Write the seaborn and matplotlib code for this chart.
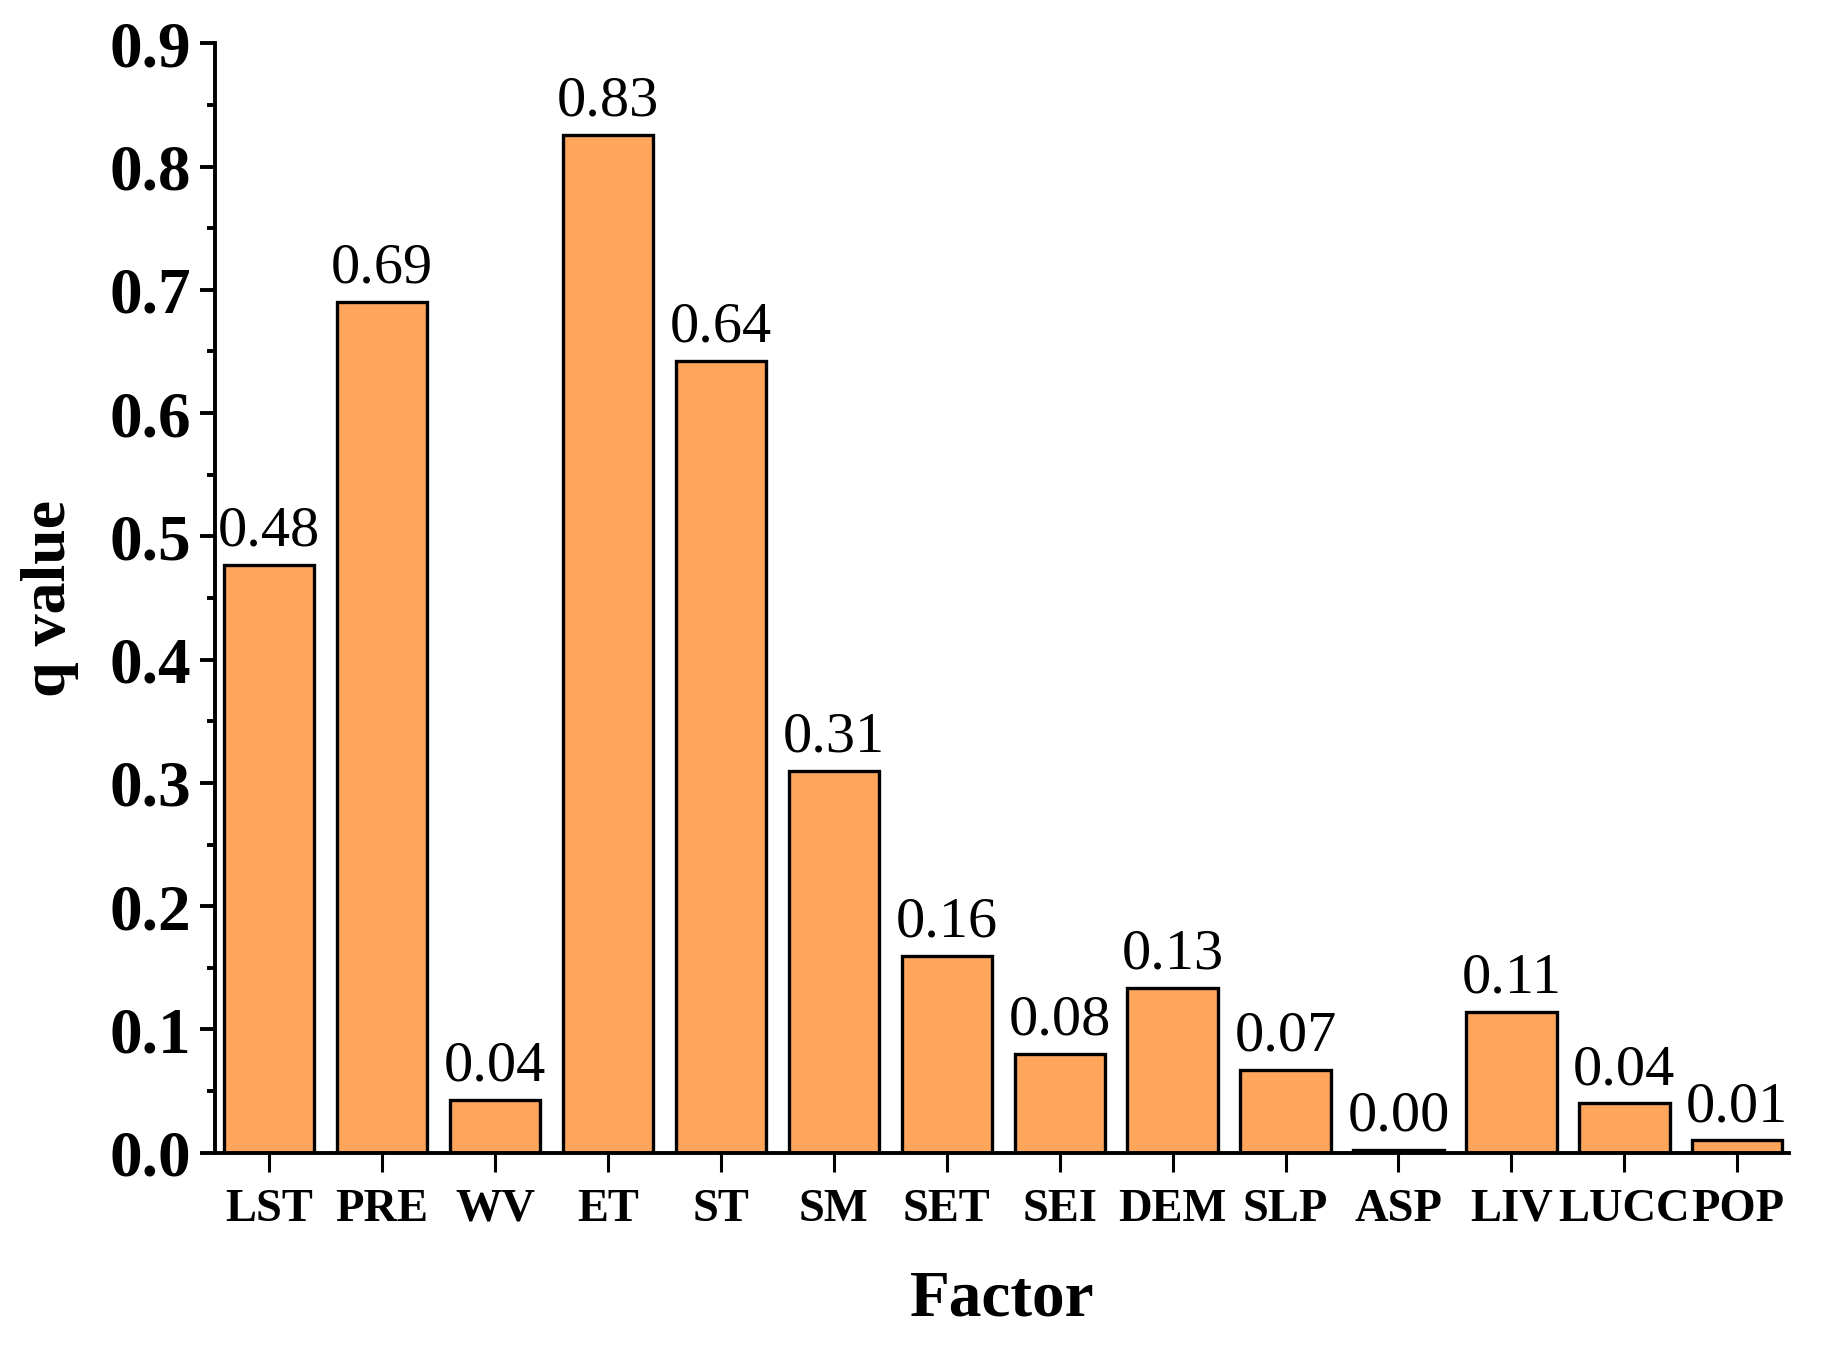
"""
Bar chart of factor q values (geodetector style).
"""
import matplotlib
matplotlib.use('Agg')
import matplotlib.pyplot as plt
from matplotlib.ticker import MultipleLocator
import seaborn as sns
import pandas as pd

factors = ['LST', 'PRE', 'WV', 'ET', 'ST', 'SM', 'SET', 'SEI',
           'DEM', 'SLP', 'ASP', 'LIV', 'LUCC', 'POP']
q_values = [0.477, 0.690, 0.043, 0.826, 0.642, 0.310, 0.160, 0.080,
            0.134, 0.067, 0.002, 0.114, 0.040, 0.010]
q_labels = ['0.48', '0.69', '0.04', '0.83', '0.64', '0.31', '0.16', '0.08',
            '0.13', '0.07', '0.00', '0.11', '0.04', '0.01']

df = pd.DataFrame({'Factor': factors, 'q': q_values})

sns.set_theme(style='ticks', rc={
    'axes.edgecolor': 'black',
    'axes.labelcolor': 'black',
    'text.color': 'black',
    'xtick.color': 'black',
    'ytick.color': 'black',
})
plt.rcParams['font.family'] = ['Liberation Serif', 'DejaVu Serif']

fig = plt.figure(figsize=(18.22, 13.53), dpi=100)
ax = fig.add_axes([0.118, 0.148, 0.864, 0.820])

sns.barplot(data=df, x='Factor', y='q', color='#FFA55C', saturation=1,
            width=0.8, edgecolor='black', linewidth=2.4, ax=ax)

for i, (v, lab) in enumerate(zip(q_values, q_labels)):
    ax.text(i, v + 0.006, lab, ha='center', va='bottom', fontsize=42)

ax.set_xlim(-0.48, 13.46)
ax.set_ylim(0, 0.9)
ax.yaxis.set_major_locator(MultipleLocator(0.1))
ax.yaxis.set_minor_locator(MultipleLocator(0.05))
ax.yaxis.set_major_formatter(plt.FormatStrFormatter('%.1f'))

for side in ['top', 'right']:
    ax.spines[side].set_visible(False)
for side in ['left', 'bottom']:
    ax.spines[side].set_linewidth(2.8)

ax.tick_params(axis='y', which='major', direction='out', length=11, width=2.8,
               labelsize=47, pad=6)
ax.tick_params(axis='y', which='minor', direction='out', length=6, width=2.8)
ax.tick_params(axis='x', which='major', direction='out', length=14, width=2.2,
               labelsize=33.5, pad=12)
for lab in ax.get_xticklabels() + ax.get_yticklabels():
    lab.set_fontweight('bold')

ax.set_xlabel('Factor', fontsize=47, fontweight='bold', labelpad=28)
ax.set_ylabel('q value', fontsize=46, fontweight='bold', labelpad=22)

fig.savefig('out.png', dpi=100, facecolor='white')
